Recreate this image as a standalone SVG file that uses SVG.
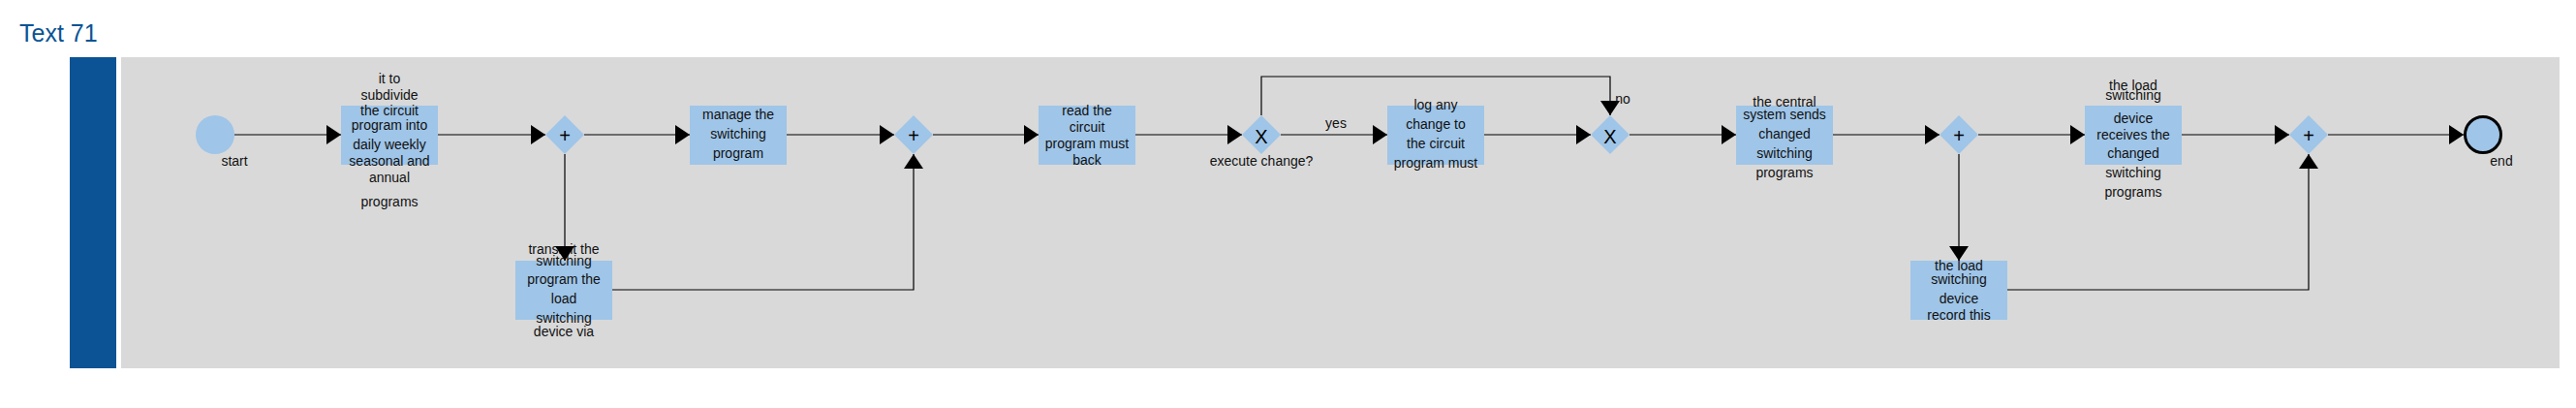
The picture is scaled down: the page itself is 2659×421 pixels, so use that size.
<svg xmlns="http://www.w3.org/2000/svg" width="2659" height="421" viewBox="0 0 2659 421">
<style>
text{font-family:"Liberation Sans",Arial,sans-serif;fill:#111;}
.t{font-size:14px;text-anchor:middle;}
.g{font-size:20px;text-anchor:middle;fill:#000;}
.task{fill:#9fc5e8;}
.gw{fill:#9fc5e8;}
.c{fill:none;stroke:#000;stroke-width:1.2;marker-end:url(#ah);}
</style>
<defs>
<marker id="ah" markerUnits="userSpaceOnUse" markerWidth="16" markerHeight="20" refX="15" refY="10" orient="auto" viewBox="0 0 16 20">
<path d="M0,0 L15,10 L0,20 z" fill="#000"/>
</marker>
</defs>
<rect width="2659" height="421" fill="#fff"/>
<text x="20" y="43" style="font-size:25px;fill:#0b5394">Text 71</text>
<g id="pool">
<rect x="72" y="59" width="48" height="321" fill="#0b5394"/>
<rect x="125" y="59" width="2517" height="321" fill="#d9d9d9"/>
</g>
<g id="start">
<circle cx="222" cy="139" r="20" fill="#9fc5e8"/>
<text class="t" x="242" y="171">start</text>
</g>
<g id="task1">
<rect class="task" x="352" y="109" width="100" height="61"/>
<text class="t" x="402" y="86">it to</text>
<text class="t" x="402" y="103">subdivide</text>
<text class="t" x="402" y="119">the circuit</text>
<text class="t" x="402" y="134">program into</text>
<text class="t" x="402" y="154">daily weekly</text>
<text class="t" x="402" y="171">seasonal and</text>
<text class="t" x="402" y="188">annual</text>
<text class="t" x="402" y="213">programs</text>
</g>
<g id="gw1">
<polygon class="gw" points="583,119 603,139 583,159 563,139"/>
<text class="g" x="583" y="147">+</text>
</g>
<g id="task2">
<rect class="task" x="712" y="109" width="100" height="61"/>
<text class="t" x="762" y="123">manage the</text>
<text class="t" x="762" y="143">switching</text>
<text class="t" x="762" y="163">program</text>
</g>
<g id="task3">
<rect class="task" x="532" y="269" width="100" height="61"/>
<text class="t" x="582" y="262">transmit the</text>
<text class="t" x="582" y="274">switching</text>
<text class="t" x="582" y="293">program the</text>
<text class="t" x="582" y="313">load</text>
<text class="t" x="582" y="333">switching</text>
<text class="t" x="582" y="347">device via</text>
</g>
<g id="gw2">
<polygon class="gw" points="943,119 963,139 943,159 923,139"/>
<text class="g" x="943" y="147">+</text>
</g>
<g id="task4">
<rect class="task" x="1072" y="109" width="100" height="61"/>
<text class="t" x="1122" y="119">read the</text>
<text class="t" x="1122" y="136">circuit</text>
<text class="t" x="1122" y="153">program must</text>
<text class="t" x="1122" y="170">back</text>
</g>
<g id="gw3">
<polygon class="gw" points="1302,119 1322,139 1302,159 1282,139"/>
<text class="g" x="1302" y="148">X</text>
<text class="t" x="1302" y="171">execute change?</text>
</g>
<g id="task5">
<rect class="task" x="1432" y="109" width="100" height="61"/>
<text class="t" x="1482" y="113">log any</text>
<text class="t" x="1482" y="133">change to</text>
<text class="t" x="1482" y="153">the circuit</text>
<text class="t" x="1482" y="173">program must</text>
</g>
<g id="gw4">
<polygon class="gw" points="1662,119 1682,139 1662,159 1642,139"/>
<text class="g" x="1662" y="148">X</text>
</g>
<g id="task6">
<rect class="task" x="1792" y="109" width="100" height="61"/>
<text class="t" x="1842" y="110">the central</text>
<text class="t" x="1842" y="123">system sends</text>
<text class="t" x="1842" y="143">changed</text>
<text class="t" x="1842" y="163">switching</text>
<text class="t" x="1842" y="183">programs</text>
</g>
<g id="gw5">
<polygon class="gw" points="2022,119 2042,139 2022,159 2002,139"/>
<text class="g" x="2022" y="147">+</text>
</g>
<g id="task7">
<rect class="task" x="2152" y="109" width="100" height="61"/>
<text class="t" x="2202" y="93">the load</text>
<text class="t" x="2202" y="103">switching</text>
<text class="t" x="2202" y="127">device</text>
<text class="t" x="2202" y="144">receives the</text>
<text class="t" x="2202" y="163">changed</text>
<text class="t" x="2202" y="183">switching</text>
<text class="t" x="2202" y="203">programs</text>
</g>
<g id="task8">
<rect class="task" x="1972" y="269" width="100" height="61"/>
<text class="t" x="2022" y="279">the load</text>
<text class="t" x="2022" y="293">switching</text>
<text class="t" x="2022" y="313">device</text>
<text class="t" x="2022" y="330">record this</text>
</g>
<g id="gw6">
<polygon class="gw" points="2383,119 2403,139 2383,159 2363,139"/>
<text class="g" x="2383" y="147">+</text>
</g>
<g id="end">
<circle cx="2563" cy="139" r="18.5" fill="#9fc5e8" stroke="#000" stroke-width="3"/>
<text class="t" x="2582" y="171">end</text>
</g>
<g id="connectors">
<path class="c" d="M242,139 H352"/>
<path class="c" d="M452,139 H563"/>
<path class="c" d="M603,139 H712"/>
<path class="c" d="M583,159 V269"/>
<path class="c" d="M812,139 H923"/>
<path class="c" d="M632,299 H943 V159"/>
<path class="c" d="M963,139 H1072"/>
<path class="c" d="M1172,139 H1282"/>
<path class="c" d="M1322,139 H1432"/>
<path class="c" d="M1302,119 V79 H1662 V119"/>
<path class="c" d="M1532,139 H1642"/>
<path class="c" d="M1682,139 H1792"/>
<path class="c" d="M1892,139 H2002"/>
<path class="c" d="M2042,139 H2152"/>
<path class="c" d="M2022,159 V269"/>
<path class="c" d="M2252,139 H2363"/>
<path class="c" d="M2072,299 H2383 V159"/>
<path class="c" d="M2403,139 H2543"/>
<text class="t" x="1379" y="132">yes</text>
<text class="t" x="1675" y="107">no</text>
</g>
</svg>
